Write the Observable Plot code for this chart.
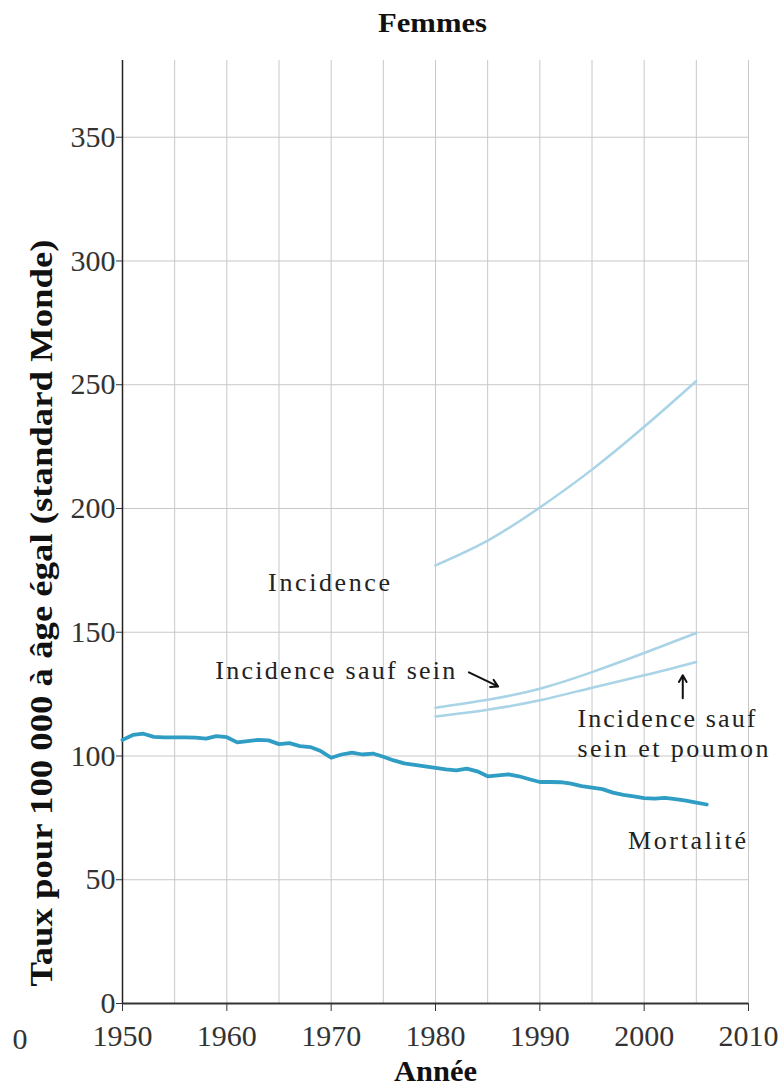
<!DOCTYPE html>
<html><head><meta charset="utf-8">
<script src="https://cdn.jsdelivr.net/npm/d3@7"></script>
<script src="https://cdn.jsdelivr.net/npm/@observablehq/plot@0.6"></script>
<style>body{margin:0;background:#fff} svg{display:block}</style>
</head><body><div id="chart"></div>
<script>
// ---- data ----
const mortalityYears = d3.range(1950, 2007);
const mortality = [106.5,108.5,109,107.7,107.5,107.5,107.5,107.4,107.0,108,
  107.6,105.5,106,106.5,106.3,104.8,105.2,104,103.6,102,
  99.3,100.6,101.4,100.6,101,99.7,98.2,97,96.4,95.8,
  95.2,94.6,94.2,94.9,93.8,91.8,92.2,92.6,91.8,90.6,
  89.5,89.5,89.4,88.8,87.8,87.2,86.6,85.2,84.3,83.7,
  83,82.8,83.1,82.6,82,81.2,80.4];
const incidenceYears = [1980,1985,1990,1995,2000,2005];
const incidence = [177,187,200.4,215.7,233,251.5];
const incidenceSaufSein = [119.5,122.7,127.2,133.9,141.6,149.7];
const incidenceSaufSeinPoumon = [116,118.7,122.5,127.6,132.6,138];
const xTicks = [1950,1960,1970,1980,1990,2000,2010];
const yTicks = [0,50,100,150,200,250,300,350];
const xGrid = [1955,1960,1965,1970,1975,1980,1985,1990,1995,2000,2005,2010];
const centeredLabels = [
  {x:1969.8, y:170.2, text:"Incidence", len:122},
  {x:1970.4, y:134.6, text:"Incidence sauf sein", len:240},
  {x:2004.1, y:65.9, text:"Mortalité", len:118}
];
const leftLabels = [
  {x:1993.6, y:115.2, text:"Incidence sauf", len:178},
  {x:1993.6, y:103.1, text:"sein et poumon", len:191}
];
const arrows = [
  {x1:1983.2, y1:133.8, x2:1986.0, y2:128.1},
  {x1:2003.7, y1:123.3, x2:2003.7, y2:132.6}
];
const title = "Femmes";
const xLabel = "Année";
const yLabel = "Taux pour 100 000 à âge égal (standard Monde)";

const mortData = mortalityYears.map((y,i)=>({year:y, value:mortality[i]}));
const incData = incidenceYears.flatMap((y,i)=>[
  {year:y, value:incidence[i], s:"inc"},
  {year:y, value:incidenceSaufSein[i], s:"ss"},
  {year:y, value:incidenceSaufSeinPoumon[i], s:"ssp"}
]);

const font = "'Liberation Serif', serif";
const chart = Plot.plot({
  width: 784, height: 1085,
  marginLeft: 122, marginRight: 36, marginTop: 60, marginBottom: 82,
  style: {fontFamily: font, background: "#fff", color: "#222"},
  x: {domain: [1950, 2010]},
  y: {domain: [0, 381]},
  marks: [
    Plot.ruleX(xGrid, {stroke: "#c8c8c8", strokeWidth: 1}),
    Plot.ruleY(yTicks.filter(d => d > 0), {x1: 1950, x2: 2010, stroke: "#c8c8c8", strokeWidth: 1}),
    Plot.axisX({ticks: xTicks, tickSize: 8, tickFormat: d => String(d), fontSize: 30, label: null, tickPadding: 13, stroke: "#333", fill: "#333"}),
    Plot.axisY({ticks: yTicks, tickSize: 6, fontSize: 30, label: null, tickPadding: 1, stroke: "#333", fill: "#333"}),
    Plot.ruleX([1950], {stroke: "#222", strokeWidth: 1.5}),
    Plot.ruleY([0], {x1: 1950, x2: 2010, stroke: "#333", strokeWidth: 2}),
    Plot.line(incData, {x: "year", y: "value", z: "s", stroke: "#a9d3e6", strokeWidth: 2.5, curve: "natural"}),
    Plot.line(mortData, {x: "year", y: "value", stroke: "#2f9dc4", strokeWidth: 3.8, curve: "linear"}),
    Plot.arrow(arrows, {x1: "x1", y1: "y1", x2: "x2", y2: "y2", stroke: "#111", strokeWidth: 2, headLength: 6}),
    Plot.text(centeredLabels, {x: "x", y: "y", text: "text", textAnchor: "middle", fontSize: 26, fill: "#222"}),
    Plot.text(leftLabels, {x: "x", y: "y", text: "text", textAnchor: "start", fontSize: 26, fill: "#222"}),
    Plot.text([title], {frameAnchor: "top", dx: -3, dy: -48, fontSize: 27, fontWeight: "bold", fill: "#111"}),
    Plot.text([xLabel], {frameAnchor: "bottom", dy: 77, fontSize: 29, fontWeight: "bold", fill: "#111"}),
    Plot.text([yLabel], {frameAnchor: "left", textAnchor: "middle", dx: -80, dy: 81, rotate: -90, fontSize: 31, fontWeight: "bold", fill: "#111"}),
    Plot.text(["0"], {frameAnchor: "bottom-left", dx: -110, dy: 45, fontSize: 30, fill: "#333"})
  ]
});
// fit text widths to the reference
const lengths = new Map([...centeredLabels, ...leftLabels].map(d => [d.text, d.len]));
lengths.set(title, 109);
lengths.set(xLabel, 83);
lengths.set(yLabel, 747);
chart.querySelectorAll("text").forEach(t => {
  const L = lengths.get(t.textContent);
  if (L) {
    t.setAttribute("textLength", L);
    t.setAttribute("lengthAdjust", (t.textContent === yLabel || t.textContent === title || t.textContent === xLabel) ? "spacingAndGlyphs" : "spacing");
  }
});
document.getElementById("chart").append(chart);
</script>
</body></html>
